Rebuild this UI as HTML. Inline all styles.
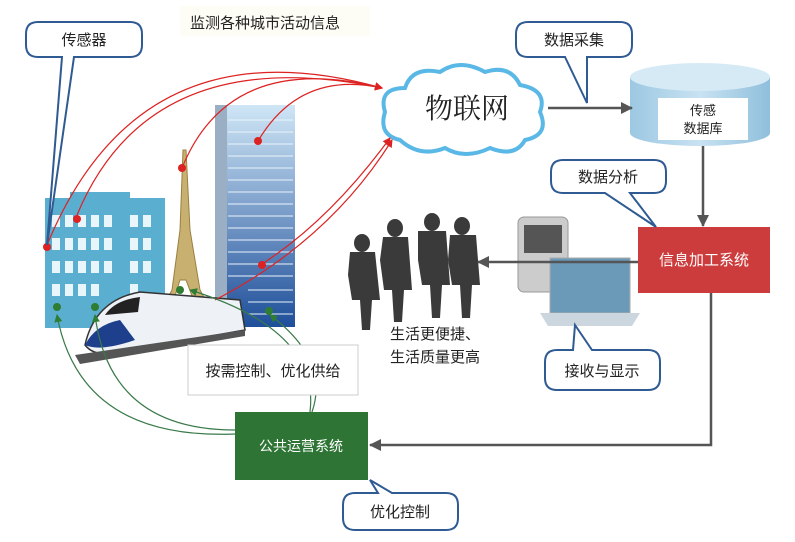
<!DOCTYPE html>
<html><head><meta charset="utf-8"><style>
html,body{margin:0;padding:0;background:#fff;}
svg{display:block;font-family:"Liberation Sans","Noto Sans CJK SC",sans-serif;}
</style></head><body>
<svg width="795" height="542" viewBox="0 0 795 542" xmlns="http://www.w3.org/2000/svg">
<defs>
<marker id="ar" markerWidth="8" markerHeight="8" refX="7" refY="4" orient="auto" markerUnits="userSpaceOnUse"><path d="M0,0 L8,4 L0,8 z" fill="#d22"/></marker>
<marker id="ag" markerWidth="8" markerHeight="8" refX="7" refY="4" orient="auto" markerUnits="userSpaceOnUse"><path d="M0,0 L8,4 L0,8 z" fill="#2e7d32"/></marker>
<marker id="ak" markerWidth="12" markerHeight="12" refX="11" refY="6" orient="auto" markerUnits="userSpaceOnUse"><path d="M0,0 L12,6 L0,12 z" fill="#555"/></marker>
<linearGradient id="tw" x1="0" y1="0" x2="0" y2="1"><stop offset="0" stop-color="#cfe6f6"/><stop offset="1" stop-color="#1f4f9a"/></linearGradient>
<linearGradient id="cy" x1="0" y1="0" x2="1" y2="0"><stop offset="0" stop-color="#9cc8e2"/><stop offset="0.5" stop-color="#c8e2f2"/><stop offset="1" stop-color="#8fbfdc"/></linearGradient>
</defs>

<!-- blue building -->
<rect x="45" y="198" width="120" height="130" fill="#5aaed0"/>
<rect x="70" y="192" width="60" height="8" fill="#5aaed0"/>
<g fill="#e8f6fc">
<rect x="52" y="215" width="8" height="12"/><rect x="65" y="215" width="8" height="12"/><rect x="78" y="215" width="8" height="12"/><rect x="91" y="215" width="8" height="12"/><rect x="104" y="215" width="8" height="12"/><rect x="130" y="215" width="8" height="12"/><rect x="143" y="215" width="8" height="12"/>
<rect x="52" y="238" width="8" height="12"/><rect x="65" y="238" width="8" height="12"/><rect x="78" y="238" width="8" height="12"/><rect x="91" y="238" width="8" height="12"/><rect x="104" y="238" width="8" height="12"/><rect x="130" y="238" width="8" height="12"/><rect x="143" y="238" width="8" height="12"/>
<rect x="52" y="261" width="8" height="12"/><rect x="65" y="261" width="8" height="12"/><rect x="78" y="261" width="8" height="12"/><rect x="91" y="261" width="8" height="12"/><rect x="104" y="261" width="8" height="12"/><rect x="130" y="261" width="8" height="12"/><rect x="143" y="261" width="8" height="12"/>
<rect x="52" y="284" width="8" height="12"/><rect x="65" y="284" width="8" height="12"/><rect x="78" y="284" width="8" height="12"/><rect x="91" y="284" width="8" height="12"/><rect x="130" y="284" width="8" height="12"/>
</g>
<!-- tower -->
<rect x="215" y="105" width="80" height="222" fill="url(#tw)"/>
<rect x="215" y="105" width="12" height="222" fill="#9aaec4"/>
<g stroke="#eaf4fb" stroke-width="1.3" opacity="0.8">
<line x1="228" y1="120" x2="293" y2="120"/><line x1="228" y1="132" x2="293" y2="132"/><line x1="228" y1="144" x2="293" y2="144"/><line x1="228" y1="156" x2="293" y2="156"/><line x1="228" y1="168" x2="293" y2="168"/><line x1="228" y1="180" x2="293" y2="180"/><line x1="228" y1="192" x2="293" y2="192"/><line x1="228" y1="204" x2="293" y2="204"/><line x1="228" y1="216" x2="293" y2="216"/><line x1="228" y1="228" x2="293" y2="228"/><line x1="228" y1="240" x2="293" y2="240"/><line x1="228" y1="252" x2="293" y2="252"/><line x1="228" y1="264" x2="293" y2="264"/><line x1="228" y1="276" x2="293" y2="276"/><line x1="248" y1="290" x2="293" y2="290"/><line x1="248" y1="302" x2="293" y2="302"/><line x1="248" y1="314" x2="293" y2="314"/>
</g>
<!-- eiffel -->
<path d="M183,150 L186,150 L190,230 L200,290 L212,312 L198,312 L186,280 L180,280 L170,312 L160,312 L172,290 L180,230 Z" fill="#c8b070" stroke="#9a8040" stroke-width="1"/>
<!-- train -->
<path d="M85,345 Q95,300 140,292 L240,300 L245,330 L120,352 Q95,358 85,345 Z" fill="#eef2f6" stroke="#333" stroke-width="1.5"/>
<path d="M85,345 Q95,325 120,320 L135,340 Q100,352 85,345 Z" fill="#1d3f8c"/>
<path d="M105,315 Q115,300 140,297 L138,312 Z" fill="#222"/>
<path d="M75,355 L245,330 L245,336 L80,364 Z" fill="#555"/>
<!-- people -->
<g fill="#3a3a3a">
<ellipse cx="362" cy="243" rx="8" ry="9"/><path d="M350,252 L375,252 L380,300 L372,300 L370,330 L362,330 L360,300 L352,300 L348,275 Z"/>
<ellipse cx="395" cy="228" rx="8" ry="9"/><path d="M383,237 L408,237 L412,290 L404,290 L402,322 L394,322 L392,290 L384,290 L380,260 Z"/>
<ellipse cx="432" cy="222" rx="8" ry="9"/><path d="M418,231 L446,231 L450,285 L442,285 L440,318 L432,318 L430,285 L422,285 L418,260 Z"/>
<ellipse cx="462" cy="226" rx="8" ry="9"/><path d="M450,235 L476,235 L480,285 L472,285 L470,318 L462,318 L460,285 L452,285 L448,260 Z"/>
</g>
<!-- phone + laptop -->
<rect x="518" y="217" width="50" height="75" rx="6" fill="#ccc" stroke="#999"/>
<rect x="524" y="225" width="38" height="28" fill="#555"/>
<rect x="550" y="258" width="80" height="55" fill="#6a9ab8" stroke="#aaa"/>
<path d="M540,313 L640,313 L632,326 L548,326 Z" fill="#ccd6de"/>

<!-- cloud -->
<path d="M400,140 Q378,135 385,112 Q378,88 405,88 Q412,66 440,72 Q460,58 485,72 Q510,64 520,85 Q548,90 540,112 Q550,135 525,140 Q515,158 490,148 Q465,160 445,148 Q420,158 400,140 Z" fill="#fff" stroke="#5ab8e6" stroke-width="4"/>
<text x="467" y="118" font-size="28" text-anchor="middle" fill="#222" font-family="'Liberation Serif','Noto Serif CJK SC',serif">物联网</text>

<!-- cylinder -->
<path d="M630,77 L630,133 A70,13 0 0 0 770,133 L770,77 Z" fill="url(#cy)"/>
<ellipse cx="700" cy="77" rx="70" ry="14" fill="#d6eaf6"/>
<rect x="658" y="98" width="90" height="42" fill="#fff"/>
<text x="703" y="115" font-size="13" text-anchor="middle" fill="#222">传感</text>
<text x="703" y="133" font-size="13" text-anchor="middle" fill="#222">数据库</text>

<!-- red box -->
<rect x="638" y="227" width="132" height="66" fill="#cd3c3c"/>
<text x="704" y="265" font-size="15" text-anchor="middle" fill="#fff">信息加工系统</text>
<!-- green box -->
<rect x="235" y="412" width="133" height="68" fill="#2e7435"/>
<text x="301" y="451" font-size="14" text-anchor="middle" fill="#fff">公共运营系统</text>

<!-- black arrows -->
<line x1="548" y1="108" x2="632" y2="108" stroke="#555" stroke-width="2.5" marker-end="url(#ak)"/>
<line x1="703" y1="146" x2="703" y2="226" stroke="#555" stroke-width="2.5" marker-end="url(#ak)"/>
<line x1="638" y1="262" x2="478" y2="262" stroke="#555" stroke-width="2.5" marker-end="url(#ak)"/>
<polyline points="711,293 711,445 370,445" fill="none" stroke="#555" stroke-width="2.5" marker-end="url(#ak)"/>

<!-- red curves -->
<g fill="none" stroke="#d22" stroke-width="1.2" marker-end="url(#ar)">
<path d="M47,245 Q140,20 382,88"/>
<path d="M77,215 Q150,40 382,88"/>
<path d="M182,168 Q230,50 382,88"/>
<path d="M258,141 Q300,70 382,88"/>
<path d="M262,264 Q330,220 390,138"/>
<path d="M215,300 Q330,240 392,140"/>
</g>
<g fill="#d22"><circle cx="47" cy="247" r="4"/><circle cx="77" cy="219" r="4"/><circle cx="182" cy="168" r="4"/><circle cx="258" cy="141" r="4"/><circle cx="262" cy="265" r="4"/></g>

<!-- green curves -->
<g fill="none" stroke="#3a7a4a" stroke-width="1.2">
<path d="M235,434 Q80,440 57,315" marker-end="url(#ag)"/>
<path d="M235,430 Q110,430 95,315" marker-end="url(#ag)"/>
<path d="M310,412 Q320,330 190,290" marker-end="url(#ag)"/>
<path d="M312,412 Q330,360 270,315" marker-end="url(#ag)"/>
</g>
<g fill="#2e7d32"><circle cx="57" cy="307" r="4"/><circle cx="95" cy="307" r="4"/><circle cx="180" cy="290" r="4"/><circle cx="269" cy="311" r="4"/></g>

<!-- top label -->
<rect x="180" y="6" width="190" height="30" fill="#fdfdf6"/>
<text x="265" y="28" font-size="15" text-anchor="middle" fill="#222">监测各种城市活动信息</text>

<!-- callouts -->
<g fill="#fff" stroke="#2f5b92" stroke-width="2">
<path d="M38,22 L130,22 Q142,22 142,34 L142,45 Q142,57 130,57 L74,57 L47,245 L62,57 L38,57 Q26,57 26,45 L26,34 Q26,22 38,22 Z"/>
<path d="M528,22 L620,22 Q632,22 632,34 L632,45 Q632,57 620,57 L587,57 L587,103 L565,57 L528,57 Q516,57 516,45 L516,34 Q516,22 528,22 Z"/>
<path d="M563,160 L654,160 Q666,160 666,172 L666,181 Q666,193 654,193 L630,193 L656,227 L605,193 L563,193 Q551,193 551,181 L551,172 Q551,160 563,160 Z"/>
<path d="M557,350 L573,350 L575,325 L592,350 L648,350 Q660,350 660,362 L660,378 Q660,390 648,390 L557,390 Q545,390 545,378 L545,362 Q545,350 557,350 Z"/>
<path d="M355,493 L378,493 L370,480 L392,493 L446,493 Q458,493 458,505 L458,518 Q458,530 446,530 L355,530 Q343,530 343,518 L343,505 Q343,493 355,493 Z"/>
</g>
<text x="84" y="45" font-size="15" text-anchor="middle" fill="#222">传感器</text>
<text x="574" y="45" font-size="15" text-anchor="middle" fill="#222">数据采集</text>
<text x="608" y="182" font-size="15" text-anchor="middle" fill="#222">数据分析</text>
<text x="602" y="376" font-size="15" text-anchor="middle" fill="#222">接收与显示</text>
<text x="400" y="517" font-size="15" text-anchor="middle" fill="#222">优化控制</text>

<rect x="188" y="345" width="170" height="50" fill="#fff" stroke="#ccc"/>
<text x="273" y="376" font-size="15" text-anchor="middle" fill="#222">按需控制、优化供给</text>
<text x="390" y="339" font-size="15" fill="#222">生活更便捷、</text>
<text x="390" y="362" font-size="15" fill="#222">生活质量更高</text>
</svg>
</body></html>
